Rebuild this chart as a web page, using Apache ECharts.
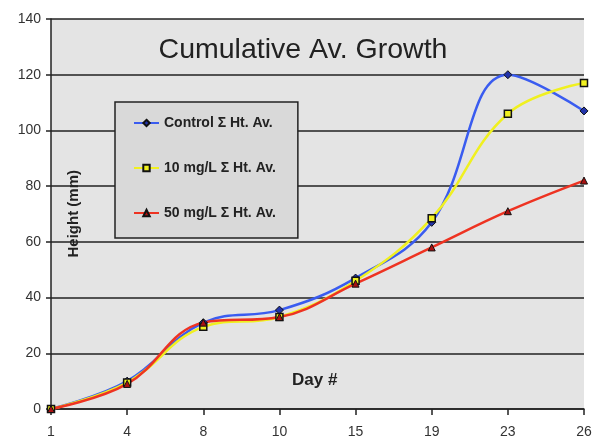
<!DOCTYPE html>
<html><head><meta charset="utf-8">
<script src="https://cdn.jsdelivr.net/npm/echarts@6/dist/echarts.min.js"></script>
<style>html,body{margin:0;padding:0;background:#fff}#c{width:598px;height:444px}</style>
</head><body><div id="c"></div>
<script>
const days = ['1','4','8','10','15','19','23','26'];
const control = [0, 10, 31, 35.5, 47, 67, 120, 107];
const mg10 = [0, 9.5, 29.5, 33, 46, 68.5, 106, 117];
const mg50 = [0, 9, 31, 33, 45, 58, 71, 82];
const names = ['Control \u03A3 Ht. Av.', '10 mg/L \u03A3 Ht. Av.', '50 mg/L \u03A3 Ht. Av.'];

const chart = echarts.init(document.getElementById('c'));
const font = 'Liberation Sans, Arial, sans-serif';
chart.setOption({
  animation: false,
  backgroundColor: '#fff',
  title: {text: 'Cumulative Av. Growth', left: 298, top: 31, textAlign: 'center',
    textStyle: {fontFamily: font, fontSize: 28.5, fontWeight: 'normal', color: '#222'}},
  grid: {left: 51, right: 14, top: 19, bottom: 35, show: true, backgroundColor: '#e4e4e4', borderWidth: 0},
  legend: {
    orient: 'vertical', left: 115, top: 102,
    backgroundColor: '#d9d9d9', borderColor: '#222', borderWidth: 1.5,
    padding: [13, 22, 17, 18], itemGap: 29, itemWidth: 25, itemHeight: 8,
    textStyle: {fontFamily: font, fontSize: 14, lineHeight: 16, fontWeight: 'bold', color: '#222'},
    data: names
  },
  xAxis: {
    type: 'category', data: days, boundaryGap: false,
    axisLine: {lineStyle: {color: '#222', width: 1.5}},
    axisTick: {alignWithLabel: true, length: 6, lineStyle: {color: '#222', width: 1.5}},
    axisLabel: {fontFamily: font, fontSize: 14, color: '#333', margin: 16},
    splitLine: {show: false}
  },
  yAxis: {
    type: 'value', min: 0, max: 140, interval: 20,
    axisLine: {show: true, lineStyle: {color: '#222', width: 1.5}},
    axisTick: {show: true, length: 5, lineStyle: {color: '#222', width: 1.5}},
    axisLabel: {fontFamily: font, fontSize: 14, color: '#333', margin: 10},
    splitLine: {show: true, lineStyle: {color: '#222', width: 1.5}}
  },
  graphic: [
    {type: 'text', left: 66, top: 170, rotation: Math.PI/2,
      style: {text: 'Height (mm)', font: 'bold 15px ' + font, fill: '#222'}},
    {type: 'text', left: 292, top: 372,
      style: {text: 'Day #', font: 'bold 17px ' + font, fill: '#222'}}
  ],
  series: [
    {name: names[0], type: 'line', data: control, smooth: 0.4,
      symbol: 'diamond', symbolSize: 8, lineStyle: {color: '#3a5cf0', width: 2.5},
      itemStyle: {color: '#2233aa', borderColor: '#111', borderWidth: 1}},
    {name: names[1], type: 'line', data: mg10, smooth: 0.4,
      symbol: 'rect', symbolSize: 7, lineStyle: {color: '#f0f020', width: 2.5},
      itemStyle: {color: '#f0f020', borderColor: '#111', borderWidth: 1.5}},
    {name: names[2], type: 'line', data: mg50, smooth: 0.4,
      symbol: 'triangle', symbolSize: 7, lineStyle: {color: '#ee3322', width: 2.5},
      itemStyle: {color: '#aa1111', borderColor: '#111', borderWidth: 1}}
  ]
});
</script></body></html>
